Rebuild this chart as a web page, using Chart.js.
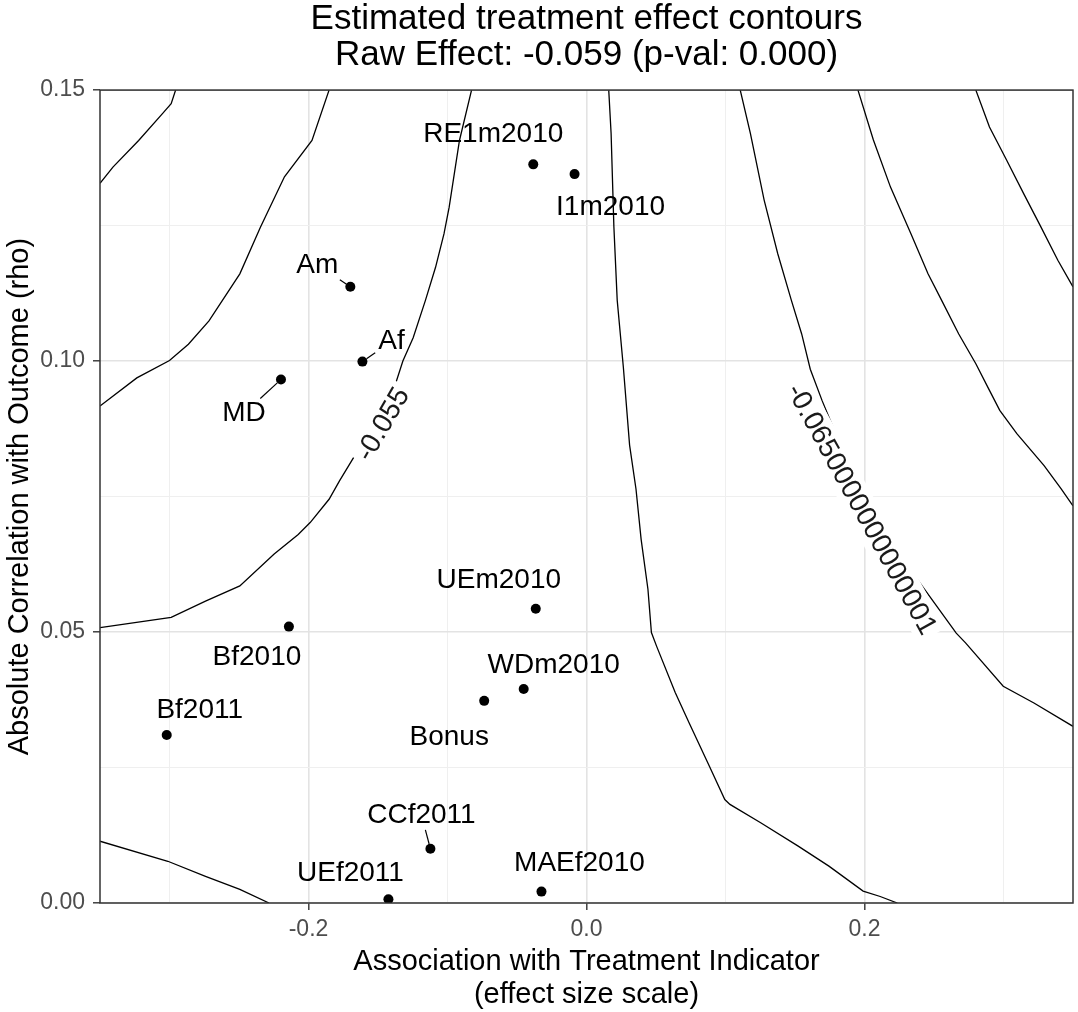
<!DOCTYPE html>
<html>
<head>
<meta charset="utf-8">
<title>Estimated treatment effect contours</title>
<script src="https://cdn.jsdelivr.net/npm/chart.js@4.4.1/dist/chart.umd.min.js"></script>
<style>
  html, body { margin: 0; padding: 0; background: #fff; }
</style>
</head>
<body>
<canvas id="contourChart" width="1078" height="1012"></canvas>
<script>
// covariates: association with treatment (x) vs |correlation| with outcome (y)
const names = ['RE1m2010', 'I1m2010', 'Am', 'Af', 'MD', 'UEm2010', 'Bf2010',
               'WDm2010', 'Bonus', 'Bf2011', 'CCf2011', 'UEf2011', 'MAEf2010'];
const assoc = [-0.0383, -0.0086, -0.1699, -0.1612, -0.2198, -0.0365, -0.2141,
               -0.0452, -0.0736, -0.3020, -0.1123, -0.1425, -0.0324];
const rho   = [0.1363, 0.1345, 0.1137, 0.0999, 0.0966, 0.0543, 0.0510,
               0.0395, 0.0373, 0.0310, 0.0100, 0.0007, 0.0021];

// contour lines of the estimated effect
const contourA = [[-0.35, 0.1328], [-0.3407, 0.1358], [-0.3222, 0.1407], [-0.3049, 0.1457],
                  [-0.2988, 0.1475], [-0.2956, 0.15]];
const contourB = [[-0.35, 0.0917], [-0.3235, 0.0969], [-0.30, 0.1001], [-0.2864, 0.1031],
                  [-0.2716, 0.1074], [-0.2494, 0.1161], [-0.2346, 0.1247], [-0.2173, 0.1340],
                  [-0.1975, 0.1407], [-0.1852, 0.15]];
const contourC = [[-0.35, 0.0508], [-0.2988, 0.0527], [-0.2741, 0.0557], [-0.2494, 0.0585],
                  [-0.2247, 0.0644], [-0.2074, 0.0680], [-0.1988, 0.0702], [-0.1852, 0.0745],
                  [-0.1777, 0.0779], [-0.1654, 0.0831], [-0.1383, 0.0951], [-0.1321, 0.1000],
                  [-0.1247, 0.1043], [-0.1160, 0.1111], [-0.1086, 0.1173], [-0.1025, 0.1235],
                  [-0.0988, 0.1284], [-0.0914, 0.1407], [-0.0827, 0.15]];
const contourD = [[0.0160, 0.15], [0.0177, 0.1420], [0.0197, 0.1248], [0.0221, 0.1112],
                  [0.0265, 0.0989], [0.0310, 0.0845], [0.0356, 0.0764], [0.0393, 0.0671],
                  [0.0442, 0.0579], [0.0467, 0.0499], [0.0504, 0.0474], [0.0639, 0.0388],
                  [0.0737, 0.0333], [0.0885, 0.0252], [0.0995, 0.0191], [0.1032, 0.0182],
                  [0.1253, 0.0148], [0.1523, 0.0105], [0.1744, 0.0068], [0.1990, 0.0022],
                  [0.2113, 0.0012], [0.2236, 0.0]];
const contourE = [[0.1106, 0.15], [0.1179, 0.1420], [0.1278, 0.1297], [0.1376, 0.1198],
                  [0.1474, 0.1112], [0.1548, 0.1050], [0.1610, 0.0985], [0.1695, 0.0927],
                  [0.1790, 0.0868], [0.2010, 0.0756], [0.2262, 0.0639], [0.2660, 0.0498],
                  [0.2727, 0.0480], [0.2998, 0.0400], [0.3219, 0.0369], [0.35, 0.0326]];
const contourF = [[0.1953, 0.15], [0.2064, 0.1408], [0.2187, 0.1321], [0.2334, 0.1235],
                  [0.2457, 0.1161], [0.2555, 0.1112], [0.2678, 0.1050], [0.2801, 0.0995],
                  [0.2899, 0.0946], [0.2973, 0.0909], [0.3096, 0.0866], [0.3292, 0.0807],
                  [0.3415, 0.0764], [0.35, 0.0733]];
const contourG = [[0.2801, 0.15], [0.2899, 0.1432], [0.3022, 0.1371], [0.3145, 0.1309],
                  [0.3268, 0.1248], [0.3391, 0.1186], [0.35, 0.1137]];
const contourH = [[-0.35, 0.0114], [-0.3012, 0.0077], [-0.2741, 0.0049], [-0.2494, 0.0025],
                  [-0.2284, 0.0]];
const contours = [contourA, contourB, contourC, contourD, contourE, contourF, contourG, contourH];

// tick values
const xMajor = [-0.2, 0, 0.2];
const xMinor = [-0.3, -0.1, 0.1, 0.3];
const yMajor = [0, 0.05, 0.10, 0.15];
const yMinor = [0.025, 0.075, 0.125];

// labels written on two of the contours (text, line, where along it)
const contourLabels = [
  { text: '-0.055', line: contourC, x: -0.1466, y: 0.0884 },
  { text: '-0.0650000000000001', line: contourE, x: 0.198, y: 0.0727 }
];

// text placement of the point labels, pixels from the point
const labelOffset = {
  RE1m2010: [-40, -30], I1m2010: [36, 33], Am: [-33, -22], Af: [29, -20], MD: [-37, 34],
  UEm2010: [-37, -28], Bf2010: [-32, 31], WDm2010: [30, -24], Bonus: [-35, 36],
  Bf2011: [33, -25], CCf2011: [-9, -34], UEf2011: [-38, -26], MAEf2010: [38, -28]
};
const withLeader = ['Am', 'Af', 'MD', 'CCf2011'];

const FAMILY = "'Liberation Sans', Arial, Helvetica, sans-serif";
Chart.defaults.font.family = FAMILY;

function near(v, list) {
  return list.some(m => Math.abs(v - m) < 1e-9);
}

function gridFor(major) {
  return {
    color: c => near(c.tick.value, major) ? '#e3e3e3' : '#efefef',
    lineWidth: c => near(c.tick.value, major) ? 1.6 : 1,
    tickColor: c => near(c.tick.value, major) ? '#333333' : 'rgba(0,0,0,0)',
    tickWidth: 1.4,
    tickLength: 7,
    drawTicks: true
  };
}

function segDist(px, py, p, q) {
  const dx = q[0] - p[0], dy = q[1] - p[1];
  let t = ((px - p[0]) * dx + (py - p[1]) * dy) / (dx * dx + dy * dy);
  t = Math.max(0, Math.min(1, t));
  return Math.hypot(px - (p[0] + t * dx), py - (p[1] + t * dy));
}

const annotate = {
  id: 'annotate',
  afterDatasetsDraw(chart) {
    const { ctx, chartArea: a, scales: { x, y } } = chart;
    const toPx = d => [x.getPixelForValue(d[0]), y.getPixelForValue(d[1])];
    ctx.save();

    // contour labels, turned along their line
    ctx.font = '28px ' + FAMILY;
    ctx.textAlign = 'center';
    ctx.textBaseline = 'middle';
    contourLabels.forEach(lab => {
      const cx = x.getPixelForValue(lab.x), cy = y.getPixelForValue(lab.y);
      let best = null, bd = Infinity;
      for (let i = 0; i < lab.line.length - 1; i++) {
        const p = toPx(lab.line[i]), q = toPx(lab.line[i + 1]);
        const d = segDist(cx, cy, p, q);
        if (d < bd) { bd = d; best = [p, q]; }
      }
      let ang = Math.atan2(best[1][1] - best[0][1], best[1][0] - best[0][0]);
      if (ang > Math.PI / 2) ang -= Math.PI;
      if (ang < -Math.PI / 2) ang += Math.PI;
      const w = ctx.measureText(lab.text).width;
      ctx.save();
      ctx.translate(cx, cy);
      ctx.rotate(ang);
      ctx.fillStyle = '#ffffff';
      ctx.fillRect(-w / 2 - 4, -16, w + 8, 32);
      ctx.fillStyle = '#1a1a1a';
      ctx.fillText(lab.text, 0, 1);
      ctx.restore();
    });

    // point labels (repelled text) and their leader segments
    names.forEach((n, i) => {
      const px = x.getPixelForValue(assoc[i]), py = y.getPixelForValue(rho[i]);
      const off = labelOffset[n];
      const lx = px + off[0], ly = py + off[1];
      const w = ctx.measureText(n).width;
      if (withLeader.includes(n)) {
        const dx = px - lx, dy = py - ly, len = Math.hypot(dx, dy);
        const t = Math.min((w / 2 + 3) / Math.abs(dx || 1e-6), 15 / Math.abs(dy || 1e-6));
        const sx = lx + t * dx, sy = ly + t * dy;
        const ex = px - dx / len * 5, ey = py - dy / len * 5;
        ctx.strokeStyle = '#000';
        ctx.lineWidth = 1.2;
        ctx.beginPath();
        ctx.moveTo(sx, sy);
        ctx.lineTo(ex, ey);
        ctx.stroke();
      }
      ctx.fillStyle = '#000';
      ctx.fillText(n, lx, ly);
    });

    // panel border
    ctx.strokeStyle = '#333333';
    ctx.lineWidth = 1.5;
    ctx.strokeRect(a.left, a.top, a.right - a.left, a.bottom - a.top);
    ctx.restore();
  }
};

const datasets = contours.map(c => ({
  data: c.map(p => ({ x: p[0], y: p[1] })),
  showLine: true,
  borderColor: '#000000',
  borderWidth: 1.3,
  pointRadius: 0,
  fill: false,
  tension: 0
}));
datasets.push({
  data: names.map((n, i) => ({ x: assoc[i], y: rho[i] })),
  pointRadius: 5,
  pointBackgroundColor: '#000000',
  pointBorderWidth: 0,
  showLine: false
});

new Chart(document.getElementById('contourChart'), {
  type: 'scatter',
  data: { datasets: datasets },
  options: {
    responsive: false,
    animation: false,
    events: [],
    layout: { padding: { left: 0, right: 3, top: 0, bottom: 0 } },
    plugins: {
      legend: { display: false },
      tooltip: { enabled: false },
      title: {
        display: true,
        fullSize: false,
        text: ['Estimated treatment effect contours', 'Raw Effect: -0.059 (p-val: 0.000)'],
        color: '#000000',
        font: { size: 35, weight: 'normal', lineHeight: 1.03 },
        padding: { top: 1, bottom: 17 }
      }
    },
    scales: {
      x: {
        type: 'linear',
        min: -0.35,
        max: 0.35,
        afterBuildTicks: s => { s.ticks = xMinor.concat(xMajor).sort((a, b) => a - b).map(v => ({ value: v })); },
        afterFit: s => { s.height = 109; },
        ticks: {
          autoSkip: false,
          maxRotation: 0,
          color: '#4d4d4d',
          font: { size: 23 },
          padding: 6,
          callback: v => near(v, xMajor) ? (Math.abs(v) < 1e-9 ? 0 : v).toFixed(1) : ''
        },
        grid: gridFor(xMajor),
        border: { display: false },
        title: {
          display: true,
          text: ['Association with Treatment Indicator', '(effect size scale)'],
          color: '#000000',
          font: { size: 29, lineHeight: 1.14 },
          padding: { top: 0, bottom: 0 }
        }
      },
      y: {
        type: 'linear',
        min: 0,
        max: 0.15,
        afterBuildTicks: s => { s.ticks = yMinor.concat(yMajor).sort((a, b) => a - b).map(v => ({ value: v })); },
        afterFit: s => { s.width = 100; },
        ticks: {
          autoSkip: false,
          color: '#4d4d4d',
          font: { size: 23 },
          padding: 8,
          callback: v => near(v, yMajor) ? v.toFixed(2) : ''
        },
        grid: gridFor(yMajor),
        border: { display: false },
        title: {
          display: true,
          text: 'Absolute Correlation with Outcome (rho)',
          color: '#000000',
          font: { size: 29, lineHeight: 1.17 },
          padding: { top: 3, bottom: 0 }
        }
      }
    }
  },
  plugins: [annotate]
});
</script>
</body>
</html>
